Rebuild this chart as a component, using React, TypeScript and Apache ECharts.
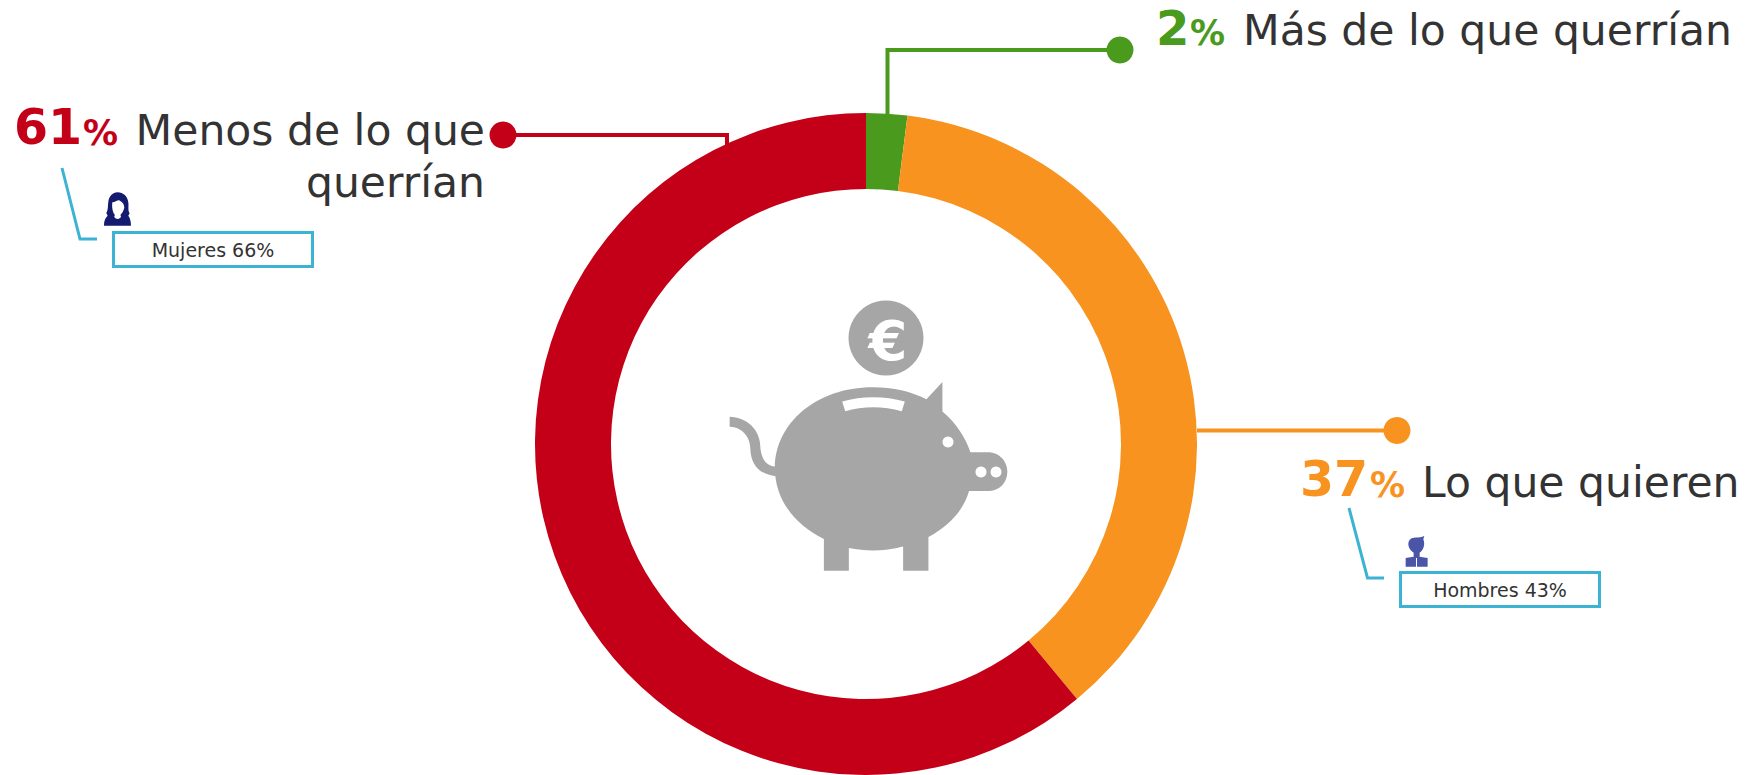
import React, { useEffect, useRef } from "react";
import * as echarts from "echarts";

const categories = ["Más de lo que querrían", "Lo que quieren", "Menos de lo que querrían"];
const values = [2, 37, 61];
const colors = ["#4a9a1e", "#f7931e", "#c40018"];
const genderLabels = ["Mujeres 66%", "Hombres 43%"];

const G = "#a6a6a6";
const DARK = "#333333";
const CYAN = "#3db3d3";
const FONT = '"DejaVu Sans", Verdana, sans-serif';

echarts.graphic.registerShape("pig", echarts.graphic.extendPath(
  "M225 565 C225 430 350 322 518 322 C580 322 635 335 680 358 L728 306 L728 395 C770 430 798 475 812 517 L865 517 C900 517 923 545 923 575 C923 608 900 634 865 634 L808 634 C790 695 745 740 686 772 L686 873 L610 873 L610 800 C555 815 500 815 447 805 L447 873 L372 873 L372 778 C285 735 225 660 225 565 Z", {}));
echarts.graphic.registerShape("tail", echarts.graphic.extendPath(
  "M89 411 C140 412 180 450 181 498 C182 530 195 558 226 560 L228 589 C180 585 152 555 151 505 C150 470 125 442 89 441 Z", {}));
echarts.graphic.registerShape("slot", echarts.graphic.extendPath(
  "M427 365 C485 348 555 348 615 365 L606 394 C550 378 490 378 436 394 Z", {}));
echarts.graphic.registerShape("woman", echarts.graphic.extendPath(
  "M68 22 C85 22 98 35 100 52 C102 65 98 75 104 85 L100 92 C106 100 108 110 108 122 L27 122 C27 108 30 100 38 92 L34 84 C40 75 38 62 40 50 C42 35 52 22 68 22 Z", {}));
echarts.graphic.registerShape("womanFace", echarts.graphic.extendPath(
  "M52 52 C62 52 70 42 76 48 C84 52 88 60 88 68 C86 78 80 86 76 90 C80 95 78 100 68 102 C58 100 56 95 60 90 C54 84 50 70 52 52 Z", {}));
echarts.graphic.registerShape("man", echarts.graphic.extendPath(
  "M88 18 L85 28 C92 45 84 62 74 68 L74 80 L98 84 L98 110 L32 110 L32 84 L56 80 L56 68 C40 58 36 40 44 30 C52 18 72 26 88 18 Z", {}));

function label(x: number, baseline: number, text: string, size: number, color: string, bold: boolean, align: string) {
  return {
    type: "text", x, y: baseline - size * 0.9, silent: true,
    style: {
      text, fill: color, fontFamily: FONT, fontSize: size,
      fontWeight: bold ? "bold" : "normal", align, verticalAlign: "top",
    },
  };
}
function seg(points: number[][], color: string, width: number) {
  return { type: "polyline", silent: true, shape: { points }, style: { stroke: color, lineWidth: width, fill: "none" } };
}
function box(x: number, y: number, w: number, h: number) {
  return { type: "rect", silent: true, shape: { x, y, width: w, height: h }, style: { fill: "#fff", stroke: CYAN, lineWidth: 3 } };
}
function dot(cx: number, cy: number, color: string) {
  return { type: "circle", silent: true, shape: { cx, cy, r: 13.5 }, style: { fill: color } };
}

export default function App() {
  const ref = useRef<HTMLDivElement>(null);
  useEffect(() => {
    const chart = echarts.init(ref.current!, undefined, { renderer: "svg" });
    const pigT = { x: 700, y: 280, scaleX: 1 / 3, scaleY: 1 / 3 };
    const wT = { x: 95, y: 185, scaleX: 1 / 3, scaleY: 1 / 3 };
    const mT = { x: 1395, y: 530, scaleX: 1 / 3, scaleY: 1 / 3 };
    chart.setOption({
      animation: false,
      backgroundColor: "#fff",
      series: [{
        type: "pie",
        center: [866, 444],
        radius: [255, 331],
        startAngle: 90,
        clockwise: true,
        silent: true,
        label: { show: false },
        labelLine: { show: false },
        data: categories.map((name, i) => ({ name, value: values[i], itemStyle: { color: colors[i] } })),
      }],
      graphic: { elements: [
        seg([[503, 135], [727, 135], [727, 146]], colors[2], 4),
        seg([[1120, 50], [887.5, 50], [887.5, 114]], colors[0], 4),
        seg([[1197, 430.5], [1397, 430.5]], colors[1], 4),
        dot(503, 135, colors[2]), dot(1120, 50, colors[0]), dot(1397, 430.5, colors[1]),

        label(14, 147, String(values[2]), 49, colors[2], true, "left"),
        label(83, 147, "%", 35, colors[2], true, "left"),
        label(485, 147, "Menos de lo que", 42.5, DARK, false, "right"),
        label(485, 199, "querrían", 42.5, DARK, false, "right"),

        label(1156, 47, String(values[0]), 48, colors[0], true, "left"),
        label(1190, 47, "%", 35, colors[0], true, "left"),
        label(1243, 47, "Más de lo que querrían", 42.5, DARK, false, "left"),

        label(1300, 499, String(values[1]), 49, colors[1], true, "left"),
        label(1370, 499, "%", 35, colors[1], true, "left"),
        label(1422, 499, "Lo que quieren", 42.5, DARK, false, "left"),

        seg([[62, 168], [80, 239], [97, 239]], CYAN, 3),
        box(113.5, 232.5, 199, 34),
        label(213, 258, genderLabels[0], 19, DARK, false, "center"),
        seg([[1349, 508], [1367.5, 578], [1384, 578]], CYAN, 3),
        box(1400.5, 572.5, 199, 34),
        label(1500, 598, genderLabels[1], 19, DARK, false, "center"),

        { type: "woman", silent: true, ...wT, style: { fill: "#141a6e" } },
        { type: "womanFace", silent: true, ...wT, style: { fill: "#fff" } },
        { type: "man", silent: true, ...mT, style: { fill: "#4a55a8" } },
        { type: "rect", silent: true, shape: { x: 1416, y: 558, width: 1, height: 9 }, style: { fill: "#fff" } },

        { type: "tail", silent: true, ...pigT, style: { fill: G } },
        { type: "pig", silent: true, ...pigT, style: { fill: G } },
        { type: "slot", silent: true, ...pigT, style: { fill: "#fff" } },
        { type: "circle", silent: true, shape: { cx: 948, cy: 442, r: 5.5 }, style: { fill: "#fff" } },
        { type: "circle", silent: true, shape: { cx: 981, cy: 472, r: 5.5 }, style: { fill: "#fff" } },
        { type: "circle", silent: true, shape: { cx: 996, cy: 472, r: 5.5 }, style: { fill: "#fff" } },
        { type: "circle", silent: true, shape: { cx: 886, cy: 338, r: 37.5 }, style: { fill: G } },
        label(888, 363, "€", 56, "#fff", true, "center"),
      ] },
    });
    return () => chart.dispose();
  }, []);
  return <div ref={ref} style={{ position: "fixed", left: 0, top: 0, width: 1754, height: 775 }} />;
}
